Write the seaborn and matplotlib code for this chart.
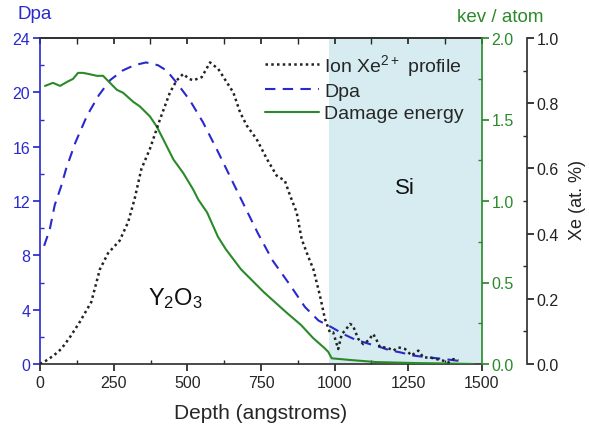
import numpy as np
import pandas as pd
import matplotlib
matplotlib.use("Agg")
import matplotlib.pyplot as plt
import seaborn as sns
from matplotlib.ticker import MultipleLocator
from matplotlib.lines import Line2D

sns.set_theme(style="ticks")
plt.rcParams['font.family'] = ['Liberation Sans', 'DejaVu Sans']
plt.rcParams['mathtext.default'] = 'regular'

# ---- data ----
dpa_depth = [14, 33, 50, 72, 89, 120, 160, 200, 238, 280, 320, 360, 400, 430, 464, 509,
             553, 600, 645, 690, 740, 790, 849, 899, 945, 990, 1030, 1069, 1114, 1154,
             1188, 1222, 1267, 1312, 1369, 1414, 1430]
dpa_value = [8.7, 9.9, 11.7, 13.1, 14.4, 16.3, 18.3, 19.8, 20.9, 21.6, 22.0, 22.2, 22.0, 21.6,
             20.7, 19.4, 17.8, 15.8, 13.8, 11.8, 9.6, 7.6, 5.8, 4.2, 3.2, 2.7, 2.2, 1.8, 1.5,
             1.25, 1.0, 0.86, 0.62, 0.5, 0.37, 0.25, 0.2]

energy_depth = [17, 44, 68, 92, 112, 129, 146, 163, 193, 214, 244, 261, 282, 316, 339, 373,
                396, 419, 453, 486, 520, 537, 567, 604, 631, 682, 760, 835, 886, 927, 964,
                978, 990, 1050, 1140, 1269, 1380, 1470]
energy_value = [1.706, 1.725, 1.706, 1.731, 1.749, 1.786, 1.786, 1.780, 1.768, 1.768, 1.713,
                1.682, 1.664, 1.609, 1.58, 1.519, 1.457, 1.376, 1.254, 1.172, 1.07, 1.009,
                0.930, 0.78, 0.703, 0.581, 0.440, 0.318, 0.239, 0.159, 0.10, 0.075, 0.035,
                0.025, 0.012, 0.006, 0.003, 0.0]

xe_depth = [0, 20, 45, 72, 100, 135, 174, 203, 231, 270, 299, 321, 344, 373, 407, 441, 464,
            486, 505, 520, 549, 577, 605, 634, 656, 679, 702, 735, 770, 803, 831, 849, 871,
            888, 910, 928, 950, 967, 984, 995, 1012, 1024, 1035, 1052, 1062, 1080, 1097,
            1114, 1131, 1143, 1154, 1177, 1199, 1216, 1239, 1261, 1284, 1301, 1324, 1346,
            1369, 1386, 1403, 1420]
xe_value = [0.0, 0.01, 0.025, 0.046, 0.08, 0.129, 0.19, 0.29, 0.34, 0.378, 0.435, 0.506,
            0.598, 0.66, 0.75, 0.833, 0.87, 0.89, 0.875, 0.87, 0.88, 0.925, 0.905, 0.864,
            0.833, 0.772, 0.731, 0.69, 0.629, 0.578, 0.562, 0.516, 0.465, 0.383, 0.33, 0.29,
            0.21, 0.138, 0.097, 0.097, 0.046, 0.092, 0.102, 0.123, 0.118, 0.077, 0.061,
            0.072, 0.092, 0.072, 0.051, 0.051, 0.041, 0.051, 0.046, 0.026, 0.041, 0.020,
            0.020, 0.015, 0.010, 0.005, 0.015, 0.01]

si_start = 982
x_ticks = [0, 250, 500, 750, 1000, 1250, 1500]

BLUE = '#2a2acc'
GREEN = '#2a8a2a'
BLACK = '#222222'
FS_TICK = 11.5

dpa_df = pd.DataFrame({'depth': dpa_depth, 'dpa': dpa_value})
en_df = pd.DataFrame({'depth': energy_depth, 'kev': energy_value})
xe_df = pd.DataFrame({'depth': xe_depth, 'xe': xe_value})

fig = plt.figure(figsize=(5.89, 4.31), dpi=100)
ax = fig.add_axes([40/589, 66/431, 442/589, 326/431])
ax2 = ax.twinx()
ax3 = ax.twinx()

ax.axvspan(si_start, 1500, color='#d6ecf1', zorder=0, lw=0)

sns.lineplot(data=dpa_df, x='depth', y='dpa', ax=ax, color=BLUE, lw=1.5,
             linestyle=(0, (5, 3.5)))
sns.lineplot(data=en_df, x='depth', y='kev', ax=ax2, color=GREEN, lw=1.5)
sns.lineplot(data=xe_df, x='depth', y='xe', ax=ax3, color=BLACK, lw=1.8,
             linestyle=(0, (1, 1.3)))

# x axis
ax.set_xlim(0, 1500)
ax.set_xticks(x_ticks)
ax.xaxis.set_minor_locator(MultipleLocator(125))
ax.set_xlabel('Depth (angstroms)', fontsize=15, labelpad=9)
ax.tick_params(axis='x', which='major', direction='out', length=5, labelsize=FS_TICK, pad=3)
ax.tick_params(axis='x', which='minor', direction='in', length=3)
top = ax.secondary_xaxis('top')
top.set_xticks(x_ticks)
top.xaxis.set_minor_locator(MultipleLocator(125))
top.tick_params(which='both', direction='in', length=4, labeltop=False)
top.set_xticklabels([])

# left axis (Dpa)
ax.set_ylim(0, 24)
ax.set_yticks(range(0, 25, 4))
ax.yaxis.set_minor_locator(MultipleLocator(2))
ax.set_ylabel('')
ax.tick_params(axis='y', which='major', direction='out', length=5, colors=BLUE,
               labelsize=FS_TICK, pad=2)
ax.tick_params(axis='y', which='minor', direction='in', length=3, colors=BLUE)
ax.spines['left'].set_color(BLUE)
ax.spines['left'].set_linewidth(1.2)
ax.spines['right'].set_visible(False)
ax.spines['top'].set_color('#333333')
ax.spines['bottom'].set_color('#333333')

# green axis (kev / atom)
ax2.set_ylim(0, 2.0)
ax2.set_yticks([0.0, 0.5, 1.0, 1.5, 2.0])
ax2.yaxis.set_minor_locator(MultipleLocator(0.25))
ax2.set_ylabel('')
ax2.tick_params(axis='y', which='major', direction='out', length=5, colors=GREEN,
                labelsize=FS_TICK, pad=2)
ax2.tick_params(axis='y', which='minor', direction='in', length=3, colors=GREEN)
ax2.yaxis.set_major_formatter(matplotlib.ticker.FormatStrFormatter('%.1f'))
ax2.spines['right'].set_color(GREEN)
ax2.spines['right'].set_linewidth(1.2)
for s in ['left', 'top', 'bottom']:
    ax2.spines[s].set_visible(False)

# third axis (Xe)
ax3.set_ylim(0, 1.0)
ax3.set_yticks([0.0, 0.2, 0.4, 0.6, 0.8, 1.0])
ax3.yaxis.set_minor_locator(MultipleLocator(0.1))
ax3.set_ylabel('')
ax3.spines['right'].set_position(('axes', (527 - 40) / 442))
ax3.spines['right'].set_color('#333333')
for s in ['left', 'top', 'bottom']:
    ax3.spines[s].set_visible(False)
ax3.tick_params(axis='y', which='major', direction='out', length=5, colors='#222222',
                labelsize=FS_TICK, pad=2)
ax3.tick_params(axis='y', which='minor', direction='in', length=3)
ax3.yaxis.set_major_formatter(matplotlib.ticker.FormatStrFormatter('%.1f'))

# axis titles
ax.text(-0.011, 1.074, 'Dpa', transform=ax.transAxes, color=BLUE, fontsize=13.5,
        ha='center', va='center')
ax.text(1.041, 1.067, 'kev / atom', transform=ax.transAxes, color=GREEN, fontsize=13.5,
        ha='center', va='center')
ax.text(1.215, 0.506, 'Xe (at. %)', transform=ax.transAxes, color='#222222', fontsize=13,
        ha='center', va='center', rotation=90)

# annotations
ax.text(1239, 13.0, 'Si', fontsize=16, ha='center', va='center', color='#111111')
ax.text(458, 4.9, r'Y$_2$O$_3$', fontsize=17, ha='center', va='center', color='#111111')

handles = [
    Line2D([], [], color=BLACK, lw=1.8, linestyle=(0, (1, 1.3))),
    Line2D([], [], color=BLUE, lw=1.5, linestyle=(0, (5, 3.5))),
    Line2D([], [], color=GREEN, lw=1.5),
]
labels = [r'Ion Xe$^{2+}$ profile', 'Dpa', 'Damage energy']
ax3.legend(handles, labels, loc='upper right', bbox_to_anchor=(0.99, 1.0), frameon=False,
           fontsize=14, handlelength=2.8, handletextpad=0.25, labelspacing=0.25,
           borderaxespad=0.3)

fig.savefig('out.png', dpi=100)
